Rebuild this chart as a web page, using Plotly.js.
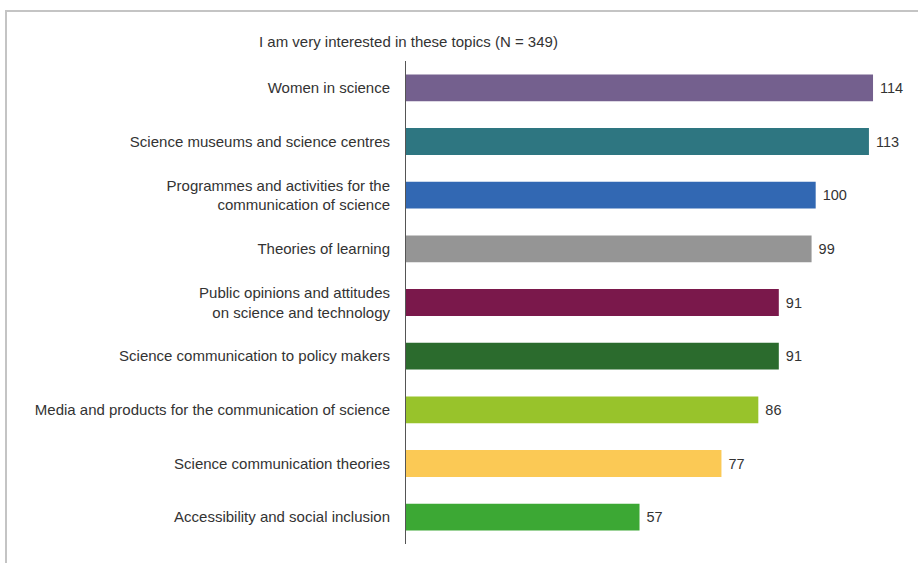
<!DOCTYPE html>
<html>
<head>
<meta charset="utf-8">
<script src="https://cdn.plot.ly/plotly-3.0.1.min.js"></script>
<style>
  body { margin: 0; background: #fff; }
  #frame { position: absolute; left: 5px; top: 10px; width: 913px; height: 553px;
           border-top: 2px solid #c4c4c4; border-left: 2px solid #c4c4c4; box-sizing: border-box; }
  #chart { position: absolute; left: 0; top: 0; width: 918px; height: 563px; }
</style>
</head>
<body>
<div id="frame"></div>
<div id="chart"></div>
<script>
const categories = [
  "Women in science",
  "Science museums and science centres",
  "Programmes and activities for the<br>communication of science",
  "Theories of learning",
  "Public opinions and attitudes<br>on science and technology",
  "Science communication to policy makers",
  "Media and products for the communication of science",
  "Science communication theories",
  "Accessibility and social inclusion"
];
const values = [114, 113, 100, 99, 91, 91, 86, 77, 57];
const barColors = ["#74608e", "#2e7681", "#3268b3", "#959595", "#7a184b", "#2b6b2d", "#98c32b", "#fbc955", "#3ca834"];
const chartTitle = "I am very interested in these topics (N = 349)";

const FONT = "Liberation Sans, Arial, sans-serif";

const trace = {
  type: "bar",
  orientation: "h",
  y: categories,
  x: values,
  marker: { color: barColors },
  text: values.map(v => " " + v),
  textposition: "outside",
  cliponaxis: false,
  textfont: { family: FONT, size: 14.5, color: "#333333" },
  hoverinfo: "none"
};

const layout = {
  width: 918,
  height: 563,
  paper_bgcolor: "rgba(0,0,0,0)",
  plot_bgcolor: "rgba(0,0,0,0)",
  margin: { l: 406, r: 4, t: 61, b: 19 },
  bargap: 0.5,
  showlegend: false,
  font: { family: FONT, size: 15, color: "#333333" },
  title: {
    text: chartTitle,
    font: { family: FONT, size: 15, color: "#333333" },
    xref: "container", yref: "container",
    x: 259 / 918, xanchor: "left",
    y: 1 - 42 / 563, yanchor: "middle"
  },
  xaxis: {
    range: [0, 124],
    visible: false,
    showgrid: false,
    zeroline: false
  },
  yaxis: {
    autorange: "reversed",
    showline: true,
    linecolor: "#555555",
    linewidth: 1,
    showgrid: false,
    zeroline: false,
    ticks: "",
    ticklabelstandoff: 12,
    tickfont: { family: FONT, size: 15, color: "#333333" }
  }
};

Plotly.newPlot("chart", [trace], layout, { staticPlot: true, displayModeBar: false });
</script>
</body>
</html>
